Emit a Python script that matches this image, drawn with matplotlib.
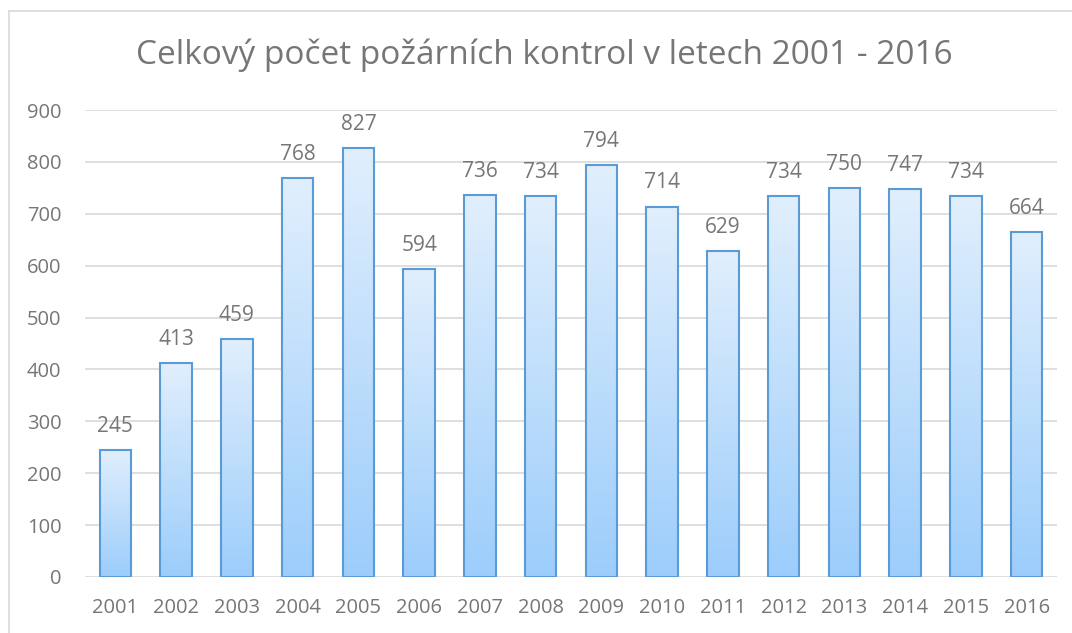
import numpy as np
import matplotlib.pyplot as plt
from matplotlib.lines import Line2D
from matplotlib.colors import LinearSegmentedColormap

# data
roky = ["2001", "2002", "2003", "2004", "2005", "2006", "2007", "2008",
        "2009", "2010", "2011", "2012", "2013", "2014", "2015", "2016"]
kontroly = [245, 413, 459, 768, 827, 594, 736, 734, 794, 714, 629, 734, 750, 747, 734, 664]
y_ticks = [0, 100, 200, 300, 400, 500, 600, 700, 800, 900]

plt.rcParams["font.family"] = ["Open Sans", "DejaVu Sans"]
text_col = "#767676"

fig = plt.figure(figsize=(10.72, 6.33), dpi=100)
ax = fig.add_axes([85 / 1072, 1 - 577 / 633, 972 / 1072, 467 / 633])

x = np.arange(len(roky))
bars = ax.bar(x, kontroly, width=0.52, facecolor="none", edgecolor="#5b9bd5",
              linewidth=1.5, zorder=3)

# gradient fill inside each bar
grad = np.linspace(0, 1, 256).reshape(-1, 1)
cmap = LinearSegmentedColormap.from_list("g", ["#9ccdfb", "#e1effd"])
for b in bars:
    x0, y0 = b.get_x(), b.get_y()
    w, h = b.get_width(), b.get_height()
    im = ax.imshow(grad, extent=[x0, x0 + w, y0, y0 + h], origin="lower",
                   cmap=cmap, aspect="auto", zorder=2)
    im.set_clip_path(b)

for xi, v in zip(x, kontroly):
    ax.annotate(str(v), (xi, v), xytext=(0, 17), textcoords="offset points",
                ha="center", va="center", fontsize=15, color=text_col)

ax.set_xlim(-0.5, len(roky) - 0.5)
ax.set_ylim(0, 900)
ax.set_yticks(y_ticks)
ax.set_xticks(x)
ax.set_xticklabels(roky)
ax.tick_params(axis="both", length=0, labelsize=14.5, colors=text_col)
ax.tick_params(axis="x", pad=15)
ax.tick_params(axis="y", pad=17)
ax.grid(axis="y", color="#d9d9d9", linewidth=1.2, zorder=0)
ax.set_axisbelow(True)
for s in ax.spines.values():
    s.set_visible(False)

fig.text(0.508, 1 - 55 / 633, "Celkový počet požárních kontrol v letech 2001 - 2016",
         ha="center", va="center", fontsize=24, color=text_col)

# chart border (left and top edges visible)
fig.add_artist(Line2D([9 / 1072, 9 / 1072], [0, 1 - 11 / 633], color="#d9d9d9", lw=1.2))
fig.add_artist(Line2D([9 / 1072, 1], [1 - 11 / 633, 1 - 11 / 633], color="#d9d9d9", lw=1.2))

fig.savefig("out.png", dpi=100)
